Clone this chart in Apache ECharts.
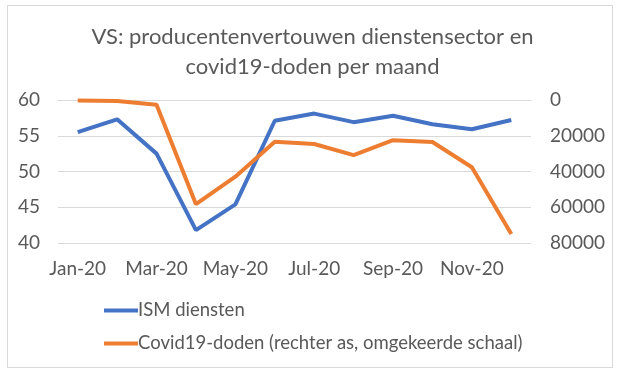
<!DOCTYPE html>
<html>
<head>
<meta charset="utf-8">
<script src="https://cdn.jsdelivr.net/npm/echarts@6/dist/echarts.min.js"></script>
<style>
  html, body { margin: 0; padding: 0; background: #fff; }
  #frame {
    position: absolute;
    left: 7px; top: 5px;
    width: 604px; height: 361px;
    border: 1px solid #d9d9d9;
  }
  #chart { width: 625px; height: 377px; position: absolute; left: 0; top: 0; }
</style>
</head>
<body>
<div id="frame"></div>
<div id="chart"></div>
<script>
const months = ["Jan-20", "Feb-20", "Mar-20", "Apr-20", "May-20", "Jun-20",
  "Jul-20", "Aug-20", "Sep-20", "Oct-20", "Nov-20", "Dec-20"];
// ISM diensten (linker as)
const ismDiensten = [55.5, 57.3, 52.5, 41.8, 45.4, 57.1, 58.1, 56.9, 57.8, 56.6, 55.9, 57.2];
// covid19-doden per maand (rechter as, omgekeerd)
const covidDoden = [300, 500, 2700, 58300, 42900, 23300, 24600, 30800, 22500, 23500, 37600, 75000];

const font = "Lato, 'Open Sans', sans-serif";
const textColor = "#595959";

const myChart = echarts.init(document.getElementById("chart"));
myChart.setOption({
  animation: false,
  title: {
    text: "VS: producentenvertouwen dienstensector en\ncovid19-doden per maand",
    left: "center",
    top: 17,
    textStyle: {
      color: textColor,
      fontSize: 22,
      fontWeight: "normal",
      fontFamily: font,
      lineHeight: 30,
    },
  },
  color: ["#4472C4", "#ED7D31"],
  grid: {
    left: 58,
    right: 94,
    top: 100,
    bottom: 134,
  },
  legend: {
    orient: "vertical",
    left: 99,
    top: 296,
    icon: "rect",
    itemWidth: 34,
    itemHeight: 4,
    itemGap: 14,
    textStyle: {
      color: textColor,
      fontSize: 18.5,
      fontFamily: font,
      padding: [0, 0, 0, -5],
    },
  },
  xAxis: {
    type: "category",
    data: months,
    axisLine: { lineStyle: { color: "#d9d9d9" } },
    axisTick: { interval: 1, length: 5, lineStyle: { color: "#d9d9d9" } },
    axisLabel: {
      interval: 1,
      color: textColor,
      fontSize: 19,
      fontFamily: font,
      margin: 16,
    },
  },
  yAxis: [
    {
      type: "value",
      min: 40,
      max: 60,
      interval: 5,
      axisLine: { show: false },
      axisTick: { show: false },
      axisLabel: { color: textColor, fontSize: 19, fontFamily: font, margin: 18 },
      splitLine: { lineStyle: { color: "#d9d9d9" } },
    },
    {
      type: "value",
      inverse: true,
      min: 0,
      max: 80000,
      interval: 20000,
      axisLine: { show: false },
      axisTick: { show: false },
      axisLabel: {
        color: textColor,
        fontSize: 19,
        fontFamily: font,
        margin: 19,
        formatter: (v) => String(v),
      },
      splitLine: { show: false },
    },
  ],
  series: [
    {
      name: "ISM diensten",
      type: "line",
      yAxisIndex: 0,
      data: ismDiensten,
      symbol: "none",
      lineStyle: { width: 4 },
    },
    {
      name: "Covid19-doden (rechter as, omgekeerde schaal)",
      type: "line",
      yAxisIndex: 1,
      data: covidDoden,
      symbol: "none",
      lineStyle: { width: 4 },
    },
  ],
});
</script>
</body>
</html>
